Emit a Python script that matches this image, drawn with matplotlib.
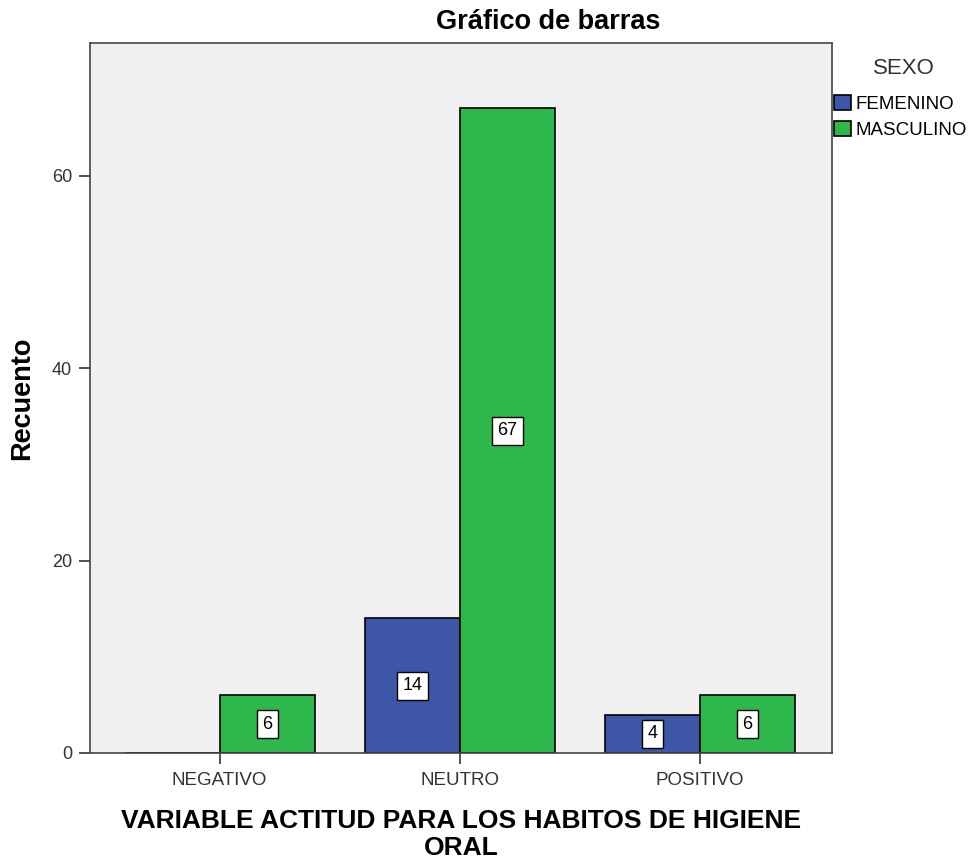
import numpy as np
import matplotlib.pyplot as plt

plt.rcParams['font.family'] = ['Liberation Sans', 'DejaVu Sans']

categorias = ['NEGATIVO', 'NEUTRO', 'POSITIVO']
femenino = [0, 14, 4]
masculino = [6, 67, 6]
series = ['FEMENINO', 'MASCULINO']
colores = ['#3d56a8', '#2eb84c']

fig = plt.figure(figsize=(9.7, 8.59), dpi=100)
ax = fig.add_axes([0.0928, 0.1234, 0.7649, 0.8266])
ax.set_facecolor('#f0f0f0')

x = np.arange(len(categorias))
w = 0.396
for i, (vals, nombre) in enumerate(zip([femenino, masculino], series)):
    pos = x + (i - 0.5) * w
    vals = np.array(vals)
    ax.bar(pos, vals, width=w, color=colores[i], edgecolor='black',
           linewidth=1.2, label=nombre)
    for p, v in zip(pos, vals):
        if v > 0:
            ax.text(p, v / 2, str(v), ha='center', va='center', fontsize=13,
                    bbox=dict(boxstyle='square,pad=0.3', fc='white', ec='black', lw=1))

ax.set_xlim(-0.54, 2.55)
ax.set_ylim(0, 73.8)
ax.set_yticks([0, 20, 40, 60])
ax.set_xticks(x)
ax.set_xticklabels(categorias)
ax.tick_params(axis='both', colors='#333333', labelsize=13, length=8, width=1.2)
ax.tick_params(axis='y', pad=5)
ax.tick_params(axis='x', labelsize=13.5, pad=6)
for s in ax.spines.values():
    s.set_color('#444444')
    s.set_linewidth(1.2)

ax.set_ylabel('Recuento', fontsize=19.5, fontweight='bold', labelpad=12)
ax.set_xlabel('VARIABLE ACTITUD PARA LOS HABITOS DE HIGIENE\nORAL', fontsize=19,
              fontweight='bold', linespacing=1.18, labelpad=14)
fig.text(548 / 970, 1 - 22 / 859, 'Gráfico de barras', ha='center', va='center',
         fontsize=19.5, fontweight='bold')

# legend title placed by hand (SPSS puts a wide gap under it)
fig.text(904 / 970, 1 - 68 / 859, 'SEXO', ha='center', va='center',
         fontsize=16, color='#333333')
leg = ax.legend(loc='upper left', bbox_to_anchor=(1.003, 0.927), frameon=False,
                fontsize=13.5, handlelength=0.9,
                handleheight=0.9, handletextpad=0.25, labelspacing=0.42,
                borderaxespad=0, borderpad=0)

fig.savefig('out.png', dpi=100)
